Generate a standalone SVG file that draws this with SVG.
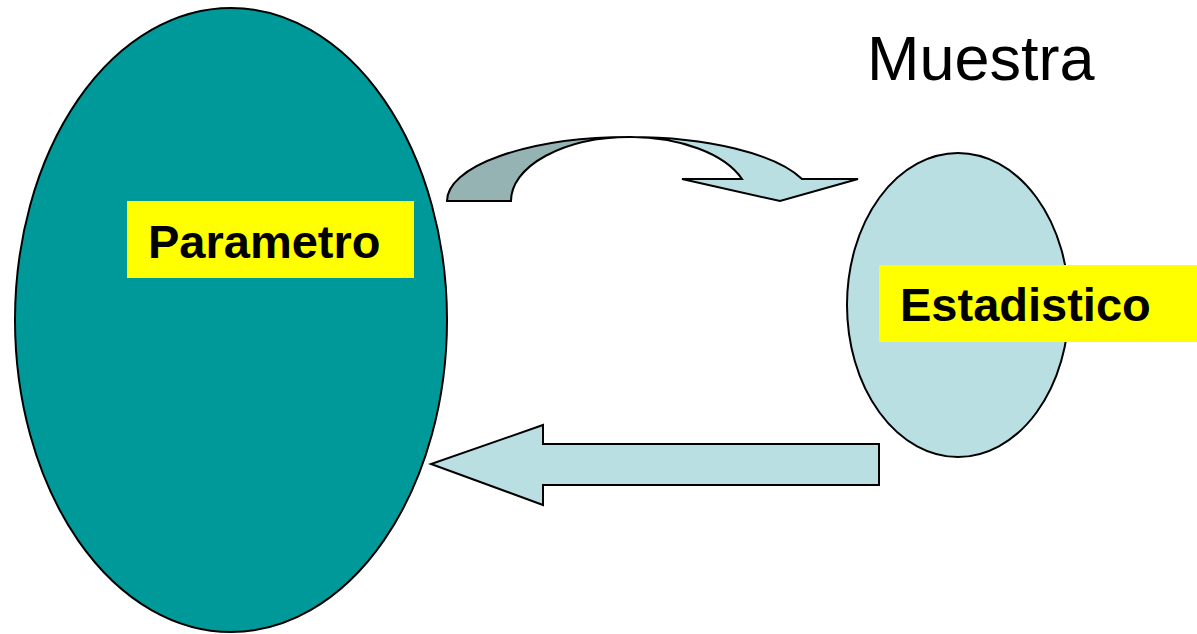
<svg xmlns="http://www.w3.org/2000/svg" width="1197" height="634" viewBox="0 0 1197 634">
<style>
.ol{stroke:#000;stroke-width:2;stroke-linejoin:miter}
.lbl{font-family:"Liberation Sans",Arial,sans-serif;font-weight:bold;font-size:47px;fill:#000}
.title{font-family:"Liberation Sans",Arial,sans-serif;font-size:63px;fill:#000}
.tag{fill:#FFFF00}
</style>
<rect width="1197" height="634" fill="#fff"/>
<g id="poblacion">
<ellipse class="ol" cx="231" cy="320" rx="216" ry="312" fill="#009999"/>
<rect class="tag" x="127" y="201" width="287" height="77"/>
<text class="lbl" x="148" y="258">Parametro</text>
</g>
<g id="muestra">
<ellipse class="ol" cx="958" cy="305" rx="111" ry="152" fill="#B9DFE3"/>
<rect class="tag" x="879" y="265" width="318" height="77"/>
<text class="lbl" x="900" y="321">Estadistico</text>
<text class="title" x="867" y="80">Muestra</text>
</g>
<g id="connectors">
<path class="ol" fill="#96B3B4" d="M447,201 A183,64 0 0 1 630,137 A119,64 0 0 0 511,201 Z"/>
<path class="ol" fill="#B9DFE3" d="M630,137 A183,64 0 0 1 802,179 L858,179 L780,201 L682,179 L742,179 A119,64 0 0 0 630,137 Z"/>
<path class="ol" fill="#B9DFE3" d="M879,444 L879,485 L543,485 L543,505 L431,464 L543,425 L543,444 Z"/>
</g>
</svg>
